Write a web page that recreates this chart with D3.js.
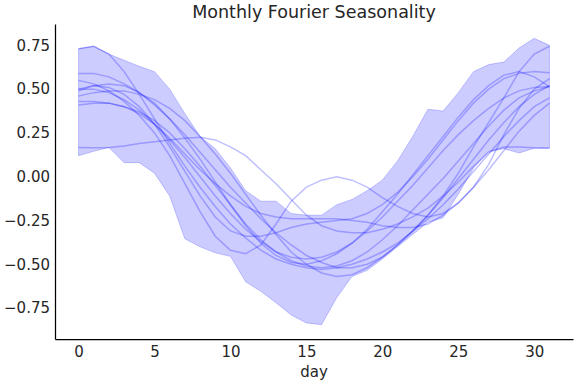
<!DOCTYPE html>
<html>
  <meta charset="utf-8">
  <head>
    <style>
        body {
              margin: 0;
              background-color: white;
              font-family: "DejaVu Sans", sans-serif;
              }
    </style>
    <title>Monthly Fourier Seasonality</title>
    <script type="text/javascript" src="https://cdn.jsdelivr.net/npm/d3@7"></script>
  </head>
  <body>
    <script>
      // days of the month, 0..31
      var days = d3.range(0, 32);

      // shaded interval, lower and upper edge per day
      var bandLow = [0.12, 0.145, 0.167, 0.08, 0.08, 0.02, -0.11, -0.355, -0.40, -0.435, -0.455, -0.60, -0.655, -0.72, -0.79, -0.835,
                     -0.845, -0.69, -0.57, -0.535, -0.47, -0.40, -0.33, -0.26, -0.235, -0.10, 0.05, 0.145, 0.16, 0.135, 0.163, 0.163];
      var bandHigh = [0.73, 0.745, 0.70, 0.665, 0.63, 0.60, 0.50, 0.36, 0.23, 0.16, 0.05, -0.08, -0.14, -0.14, -0.21, -0.22,
                      -0.22, -0.16, -0.13, -0.08, -0.02, 0.09, 0.23, 0.385, 0.375, 0.48, 0.60, 0.64, 0.655, 0.735, 0.79, 0.75];

      // sampled seasonality curves
      var s1 = [0.73, 0.745, 0.70, 0.60, 0.47, 0.33, 0.19, 0.06, -0.06, -0.17, -0.27, -0.35, -0.42, -0.47, -0.50, -0.52,
                -0.53, -0.52, -0.50, -0.47, -0.43, -0.38, -0.31, -0.22, -0.11, 0.02, 0.17, 0.31, 0.45, 0.60, 0.70, 0.745];
      var s2 = [0.59, 0.59, 0.57, 0.53, 0.48, 0.41, 0.33, 0.24, 0.14, 0.04, -0.06, -0.15, -0.24, -0.32, -0.39, -0.45,
                -0.49, -0.52, -0.52, -0.50, -0.46, -0.39, -0.31, -0.22, -0.12, -0.01, 0.10, 0.21, 0.31, 0.40, 0.47, 0.52];
      var s3 = [0.55, 0.53, 0.49, 0.43, 0.35, 0.25, 0.12, -0.04, -0.20, -0.34, -0.42, -0.44, -0.39, -0.27, -0.14, -0.06,
                -0.02, 0.00, -0.02, -0.06, -0.12, -0.17, -0.21, -0.23, -0.21, -0.15, -0.06, 0.07, 0.24, 0.39, 0.50, 0.56];
      var s4 = [0.167, 0.165, 0.167, 0.175, 0.19, 0.20, 0.21, 0.22, 0.225, 0.21, 0.17, 0.12, 0.04, -0.04, -0.13, -0.22,
                -0.28, -0.31, -0.32, -0.32, -0.30, -0.27, -0.23, -0.18, -0.11, -0.03, 0.06, 0.14, 0.17, 0.17, 0.165, 0.163];
      var s5 = [0.43, 0.43, 0.42, 0.40, 0.36, 0.30, 0.22, 0.13, 0.04, -0.04, -0.11, -0.17, -0.21, -0.23, -0.24, -0.24,
                -0.24, -0.24, -0.25, -0.26, -0.28, -0.29, -0.29, -0.27, -0.22, -0.15, -0.06, 0.04, 0.15, 0.26, 0.35, 0.42];
      var s6 = [0.50, 0.52, 0.51, 0.47, 0.40, 0.30, 0.17, 0.03, -0.11, -0.23, -0.31, -0.34, -0.34, -0.32, -0.29, -0.27,
                -0.26, -0.25, -0.24, -0.21, -0.16, -0.09, 0.00, 0.10, 0.21, 0.32, 0.42, 0.50, 0.56, 0.59, 0.60, 0.594];
      var s7 = [0.49, 0.52, 0.53, 0.52, 0.48, 0.42, 0.33, 0.22, 0.10, -0.03, -0.16, -0.28, -0.38, -0.45, -0.49, -0.50,
                -0.48, -0.44, -0.38, -0.30, -0.20, -0.10, 0.01, 0.12, 0.23, 0.34, 0.44, 0.52, 0.58, 0.60, 0.57, 0.515];
      var s8 = [0.46, 0.48, 0.49, 0.49, 0.47, 0.44, 0.39, 0.32, 0.23, 0.13, 0.02, -0.10, -0.22, -0.33, -0.43, -0.50,
                -0.55, -0.57, -0.56, -0.52, -0.46, -0.39, -0.31, -0.24, -0.16, -0.07, 0.03, 0.13, 0.23, 0.32, 0.40, 0.45];
      var s9 = [0.41, 0.42, 0.42, 0.40, 0.37, 0.32, 0.25, 0.16, 0.06, -0.05, -0.16, -0.27, -0.36, -0.43, -0.48, -0.51,
                -0.52, -0.51, -0.48, -0.43, -0.36, -0.28, -0.19, -0.10, -0.01, 0.09, 0.19, 0.29, 0.38, 0.45, 0.49, 0.515];
      var s10 = [0.50, 0.50, 0.48, 0.44, 0.38, 0.30, 0.21, 0.11, 0.00, -0.11, -0.21, -0.30, -0.37, -0.43, -0.46, -0.47,
                 -0.46, -0.43, -0.38, -0.31, -0.23, -0.14, -0.05, 0.05, 0.15, 0.24, 0.32, 0.39, 0.45, 0.49, 0.51, 0.515];
      var samples = [s1, s2, s3, s4, s5, s6, s7, s8, s9, s10];

      var xTicks = [0, 5, 10, 15, 20, 25, 30];
      var yTicks = [-0.75, -0.5, -0.25, 0, 0.25, 0.5, 0.75];

      function chart() {
        var W = 576, H = 384;
        var margin = {top: 24, right: 3, bottom: 45, left: 55};

        var svg = d3.select("body")
                    .append("svg")
                    .attr("width", W)
                    .attr("height", H);

        var x = d3.scaleLinear().domain([-1.55, 32.55]).range([margin.left, W - margin.right]);
        var y = d3.scaleLinear().domain([-0.927, 0.872]).range([H - margin.bottom, margin.top]);

        // interval band
        var area = d3.area()
                     .x(function(d, i) { return x(days[i]); })
                     .y0(function(d, i) { return y(bandLow[i]); })
                     .y1(function(d, i) { return y(bandHigh[i]); });
        svg.append("path")
           .datum(bandLow)
           .attr("d", area)
           .attr("fill", "blue")
           .attr("fill-opacity", 0.2)
           .attr("stroke", "blue")
           .attr("stroke-opacity", 0.2)
           .attr("stroke-width", 1);

        // sample lines
        var line = d3.line()
                     .x(function(d, i) { return x(days[i]); })
                     .y(function(d) { return y(d); });
        svg.selectAll("path.sample")
           .data(samples)
           .enter()
           .append("path")
           .attr("class", "sample")
           .attr("d", line)
           .attr("fill", "none")
           .attr("stroke", "blue")
           .attr("stroke-opacity", 0.25)
           .attr("stroke-width", 1.5);

        // axes
        var xAxis = svg.append("g")
           .attr("transform", "translate(0," + (H - margin.bottom) + ")")
           .call(d3.axisBottom(x).tickValues(xTicks).tickSize(0).tickPadding(7));
        var yAxis = svg.append("g")
           .attr("transform", "translate(" + margin.left + ",0)")
           .call(d3.axisLeft(y).tickValues(yTicks).tickSize(0).tickPadding(5)
                   .tickFormat(d3.format(".2f")));

        [xAxis, yAxis].forEach(function(g) {
          g.select(".domain").attr("stroke", "#000").attr("stroke-width", 1.25);
          g.selectAll("text")
           .attr("font-family", "DejaVu Sans")
           .attr("font-size", "15px")
           .attr("fill", "#262626");
        });

        svg.append("text")
           .text("day")
           .attr("x", (margin.left + W - margin.right) / 2)
           .attr("y", 377)
           .attr("text-anchor", "middle")
           .attr("font-family", "DejaVu Sans")
           .attr("font-size", "15px")
           .attr("fill", "#262626");

        svg.append("text")
           .text("Monthly Fourier Seasonality")
           .attr("x", (margin.left + W - margin.right) / 2)
           .attr("y", 18)
           .attr("text-anchor", "middle")
           .attr("font-family", "DejaVu Sans")
           .attr("font-size", "17.5px")
           .attr("fill", "#262626");
      }

      chart();
    </script>
  </body>
</html>
